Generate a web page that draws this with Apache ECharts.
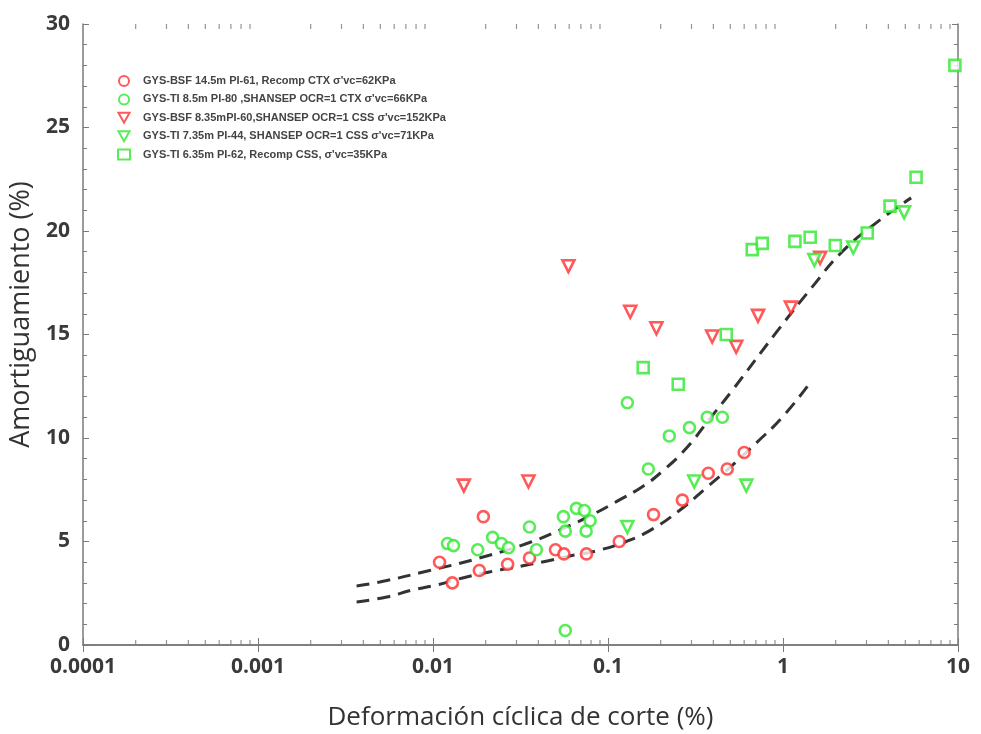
<!DOCTYPE html>
<html>
<head>
<meta charset="utf-8">
<script src="https://cdn.jsdelivr.net/npm/echarts@6/dist/echarts.min.js"></script>
<style>
html, body { margin: 0; padding: 0; background: #fff; }
#chart { width: 981px; height: 734px; }
</style>
</head>
<body>
<div id="chart"></div>
<script>
// 系列名称
var names = [
    "GYS-BSF 14.5m PI-61, Recomp CTX σ'vc=62KPa",
    "GYS-TI 8.5m PI-80 ,SHANSEP OCR=1 CTX σ'vc=66KPa",
    "GYS-BSF 8.35mPI-60,SHANSEP OCR=1 CSS σ'vc=152KPa",
    "GYS-TI 7.35m PI-44, SHANSEP OCR=1 CSS σ'vc=71KPa",
    "GYS-TI 6.35m PI-62, Recomp CSS, σ'vc=35KPa"
];
// [deformación %, amortiguamiento %]
var bsf145 = [
    [0.0109, 4.0], [0.0129, 3.0], [0.0194, 6.2], [0.0184, 3.6], [0.0267, 3.9],
    [0.0356, 4.2], [0.0501, 4.6], [0.056, 4.4], [0.0753, 4.4], [0.116, 5.0],
    [0.182, 6.3], [0.266, 7.0], [0.374, 8.3], [0.48, 8.5], [0.60, 9.3]
];
var ti85 = [
    [0.0121, 4.9], [0.0131, 4.8], [0.018, 4.6], [0.0219, 5.2], [0.0246, 4.9],
    [0.027, 4.7], [0.0356, 5.7], [0.039, 4.6], [0.0556, 6.2], [0.057, 5.5],
    [0.066, 6.6], [0.0733, 6.5], [0.079, 6.0], [0.075, 5.5], [0.057, 0.7],
    [0.129, 11.7], [0.170, 8.5], [0.224, 10.1], [0.292, 10.5], [0.369, 11.0],
    [0.45, 11.0]
];
var bsf835 = [
    [0.015, 7.7], [0.0351, 7.9], [0.0594, 18.3], [0.134, 16.1], [0.189, 15.3],
    [0.394, 14.9], [0.54, 14.4], [0.72, 15.9], [1.11, 16.3], [1.63, 18.7]
];
var ti735 = [
    [0.129, 5.7], [0.311, 7.9], [0.617, 7.7], [1.51, 18.6], [2.52, 19.2], [4.92, 20.9]
];
var ti635 = [
    [0.159, 13.4], [0.252, 12.6], [0.474, 15.0], [0.667, 19.1], [0.761, 19.4],
    [1.17, 19.5], [1.43, 19.7], [1.99, 19.3], [3.03, 19.9], [4.09, 21.2],
    [5.76, 22.6], [9.6, 28.0]
];
// 两条虚线 (趋势线)
var upperFit = [
    [0.00366, 2.85], [0.00496, 3.04], [0.00957, 3.6], [0.0184, 4.2], [0.0356, 4.95],
    [0.0579, 5.7], [0.0815, 6.3], [0.113, 6.95], [0.157, 7.65], [0.205, 8.4],
    [0.28, 9.5], [0.379, 10.9], [0.513, 12.3], [0.915, 15.1], [1.47, 17.3],
    [2.18, 19.0], [3.54, 20.5], [5.4, 21.6]
];
var lowerFit = [
    [0.00366, 2.08], [0.00544, 2.32], [0.00765, 2.66], [0.0105, 2.9], [0.01476, 3.24],
    [0.021, 3.53], [0.030, 3.77], [0.0422, 4.01], [0.0602, 4.3], [0.0859, 4.55],
    [0.127, 5.0], [0.179, 5.6], [0.256, 6.5], [0.365, 7.6], [0.493, 8.55],
    [0.703, 9.76], [0.989, 11.0], [1.38, 12.5]
];
// x轴次刻度 (2..9 × 10^k)
var minorX = [];
for (var k = -4; k <= 0; k++) {
    for (var m = 2; m <= 9; m++) {
        minorX.push(+(m * Math.pow(10, k)).toPrecision(3));
    }
}

var red = '#ff3030';
var green = '#2ee82e';
var axisColor = '#7a7a7a';
// 倒三角图例图标
var downTri = 'path://M0,0L10,0L5,9Z';

function scatter(name, data, color, symbol, rotate) {
    return {
        name: name,
        type: 'scatter',
        data: data,
        symbol: symbol,
        symbolRotate: rotate || 0,
        symbolSize: symbol === 'triangle' ? 12 : 11,
        clip: false,
        itemStyle: { color: '#fff', borderColor: color, borderWidth: 2.6 },
        z: 5
    };
}
function fitLine(data) {
    return {
        type: 'line',
        data: data,
        smooth: 0.5,
        symbol: 'none',
        silent: true,
        lineStyle: { color: '#333', width: 3, type: [13, 8] },
        z: 3
    };
}
function minorTicks(y, offset) {
    return {
        type: 'scatter',
        silent: true,
        clip: false,
        data: minorX.map(function (v) { return [v, y]; }),
        symbol: 'rect',
        symbolSize: [1.2, 5],
        symbolOffset: offset,
        itemStyle: { color: axisColor },
        z: 2
    };
}

var myChart = echarts.init(document.getElementById('chart'));
var labelFont = { color: '#3a3a3a', fontSize: 21, fontWeight: 'bold', fontFamily: 'Open Sans' };
var option = {
    animation: false,
    grid: { left: 83, right: 23, top: 24, bottom: 89, outerBoundsMode: 'none', containLabel: false },
    legend: {
        data: [
            { name: names[0] },
            { name: names[1] },
            { name: names[2], icon: downTri },
            { name: names[3], icon: downTri },
            { name: names[4] }
        ],
        orient: 'vertical',
        left: 112,
        top: 70,
        itemWidth: 12,
        itemHeight: 10,
        itemGap: 6.4,
        textStyle: {
            fontSize: 11, lineHeight: 12, color: '#444', fontWeight: 'bold',
            fontFamily: 'Liberation Sans', padding: [0, 0, 0, 8]
        }
    },
    xAxis: [
        {
            type: 'log', logBase: 10, min: 0.0001, max: 10,
            name: 'Deformación cíclica de corte (%)',
            nameLocation: 'middle', nameGap: 60,
            nameTextStyle: { color: '#333', fontSize: 26, fontFamily: 'Open Sans' },
            axisLine: { lineStyle: { color: axisColor, width: 1.5 } },
            axisTick: { inside: true, length: 7, lineStyle: { color: axisColor } },
            axisLabel: Object.assign({ margin: 12 }, labelFont),
            splitLine: { show: false }
        },
        {
            type: 'log', logBase: 10, min: 0.0001, max: 10, position: 'top',
            axisLine: { lineStyle: { color: axisColor, width: 1.5 } },
            axisTick: { inside: true, length: 7, lineStyle: { color: axisColor } },
            axisLabel: { show: false },
            splitLine: { show: false }
        }
    ],
    yAxis: [
        {
            type: 'value', min: 0, max: 30, interval: 5,
            name: 'Amortiguamiento (%)',
            nameLocation: 'middle', nameGap: 42,
            nameTextStyle: {
                color: '#333', fontSize: 27, fontFamily: 'Open Sans',
                padding: [0, 0, 0, 40]
            },
            axisLine: { show: true, lineStyle: { color: axisColor, width: 1.5 } },
            axisTick: { inside: true, length: 6, lineStyle: { color: axisColor } },
            minorTick: { show: true, splitNumber: 5, length: 4, lineStyle: { color: axisColor } },
            axisLabel: Object.assign({ margin: 13 }, labelFont),
            splitLine: { show: false }
        },
        {
            type: 'value', min: 0, max: 30, interval: 5, position: 'right',
            axisLine: { show: true, lineStyle: { color: axisColor, width: 1.5 } },
            axisTick: { inside: true, length: 6, lineStyle: { color: axisColor } },
            minorTick: { show: true, splitNumber: 5, length: 4, lineStyle: { color: axisColor } },
            axisLabel: { show: false },
            splitLine: { show: false }
        }
    ],
    series: [
        minorTicks(0, [0, -2.5]),
        minorTicks(30, [0, 2.5]),
        fitLine(upperFit),
        fitLine(lowerFit),
        scatter(names[0], bsf145, red, 'circle'),
        scatter(names[1], ti85, green, 'circle'),
        scatter(names[2], bsf835, red, 'triangle', 180),
        scatter(names[3], ti735, green, 'triangle', 180),
        scatter(names[4], ti635, green, 'rect')
    ]
};
myChart.setOption(option);
</script>
</body>
</html>
